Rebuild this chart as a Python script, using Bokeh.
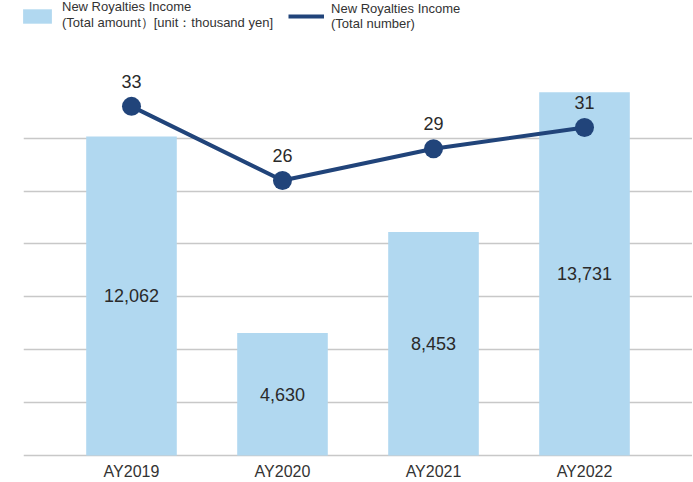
from bokeh.plotting import figure
from bokeh.models import ColumnDataSource, FactorRange, Range1d, Legend, LegendItem, FixedTicker
from bokeh.core.properties import value
from bokeh.embed import file_html
from bokeh.resources import INLINE

# ---- data ----
years = ["AY2019", "AY2020", "AY2021", "AY2022"]
amount = [12062, 4630, 8453, 13731]      # thousand yen
number = [33, 26, 29, 31]                # count
grid_ticks = [0, 2000, 4000, 6000, 8000, 10000, 12000]

FONT = "Liberation Sans"
BAR = "#b1d8f0"
LINE = "#21447a"
TXT = "#2a2a2a"

Y_START = -1059
Y_END = 17392
RATIO = 400  # number axis scale relative to amount axis

src = ColumnDataSource(dict(
    year=years,
    amount=amount,
    zero=[0] * len(years),
    mid=[a / 2 for a in amount],
    amount_lbl=[f"{a:,}" for a in amount],
    number=number,
    number_lbl=[str(n) for n in number],
))

p = figure(width=693, height=488,
           x_range=FactorRange(*years, range_padding=0.1076),
           y_range=Range1d(Y_START, Y_END),
           x_axis_location=None, y_axis_location=None,
           output_backend="svg", toolbar_location=None,
           min_border_left=24, min_border_right=0,
           min_border_top=0, min_border_bottom=0)
p.styles = {"margin": "-5px -4px -4px -1px"}
p.extra_y_ranges = {"num": Range1d(Y_START / RATIO, Y_END / RATIO)}

p.outline_line_color = None
p.background_fill_color = "white"
p.border_fill_color = "white"
p.xgrid.visible = False
p.ygrid.ticker = FixedTicker(ticks=grid_ticks)
p.ygrid.grid_line_color = "#c8c8c8"
p.ygrid.grid_line_width = 1.5

r_bar = p.vbar(x="year", top="amount", width=0.6, source=src,
               fill_color=BAR, line_color=None)
p.text(x="year", y="mid", text="amount_lbl", source=src,
       text_align="center", text_baseline="middle",
       text_font=value(FONT), text_font_size="18px", text_color=TXT)

# category labels under the baseline
p.text(x="year", y="zero", text="year", source=src,
       y_offset=16, text_align="center", text_baseline="middle",
       text_font=value(FONT), text_font_size="16px", text_color="#333333")

r_line = p.line(x="year", y="number", source=src, y_range_name="num",
                line_color=LINE, line_width=4)
p.scatter(x="year", y="number", source=src, y_range_name="num",
          size=19, fill_color=LINE, line_color=None)
p.text(x="year", y="number", text="number_lbl", source=src, y_range_name="num",
       y_offset=-25, text_align="center", text_baseline="middle",
       text_font=value(FONT), text_font_size="18px", text_color=TXT)

legend = Legend(items=[
    LegendItem(label="New Royalties Income\n(Total amount）[unit：thousand yen]", renderers=[r_bar]),
    LegendItem(label="New Royalties Income\n(Total number)", renderers=[r_line]),
], orientation="horizontal", location=(-4, 451),
    glyph_width=36, glyph_height=18, label_standoff=7, spacing=15,
    padding=0, margin=0, border_line_color=None, background_fill_alpha=0,
    label_text_font=FONT, label_text_font_size="13px", label_text_color="#333333")
p.add_layout(legend, "center")

open("out.html", "w").write(file_html(p, INLINE))
